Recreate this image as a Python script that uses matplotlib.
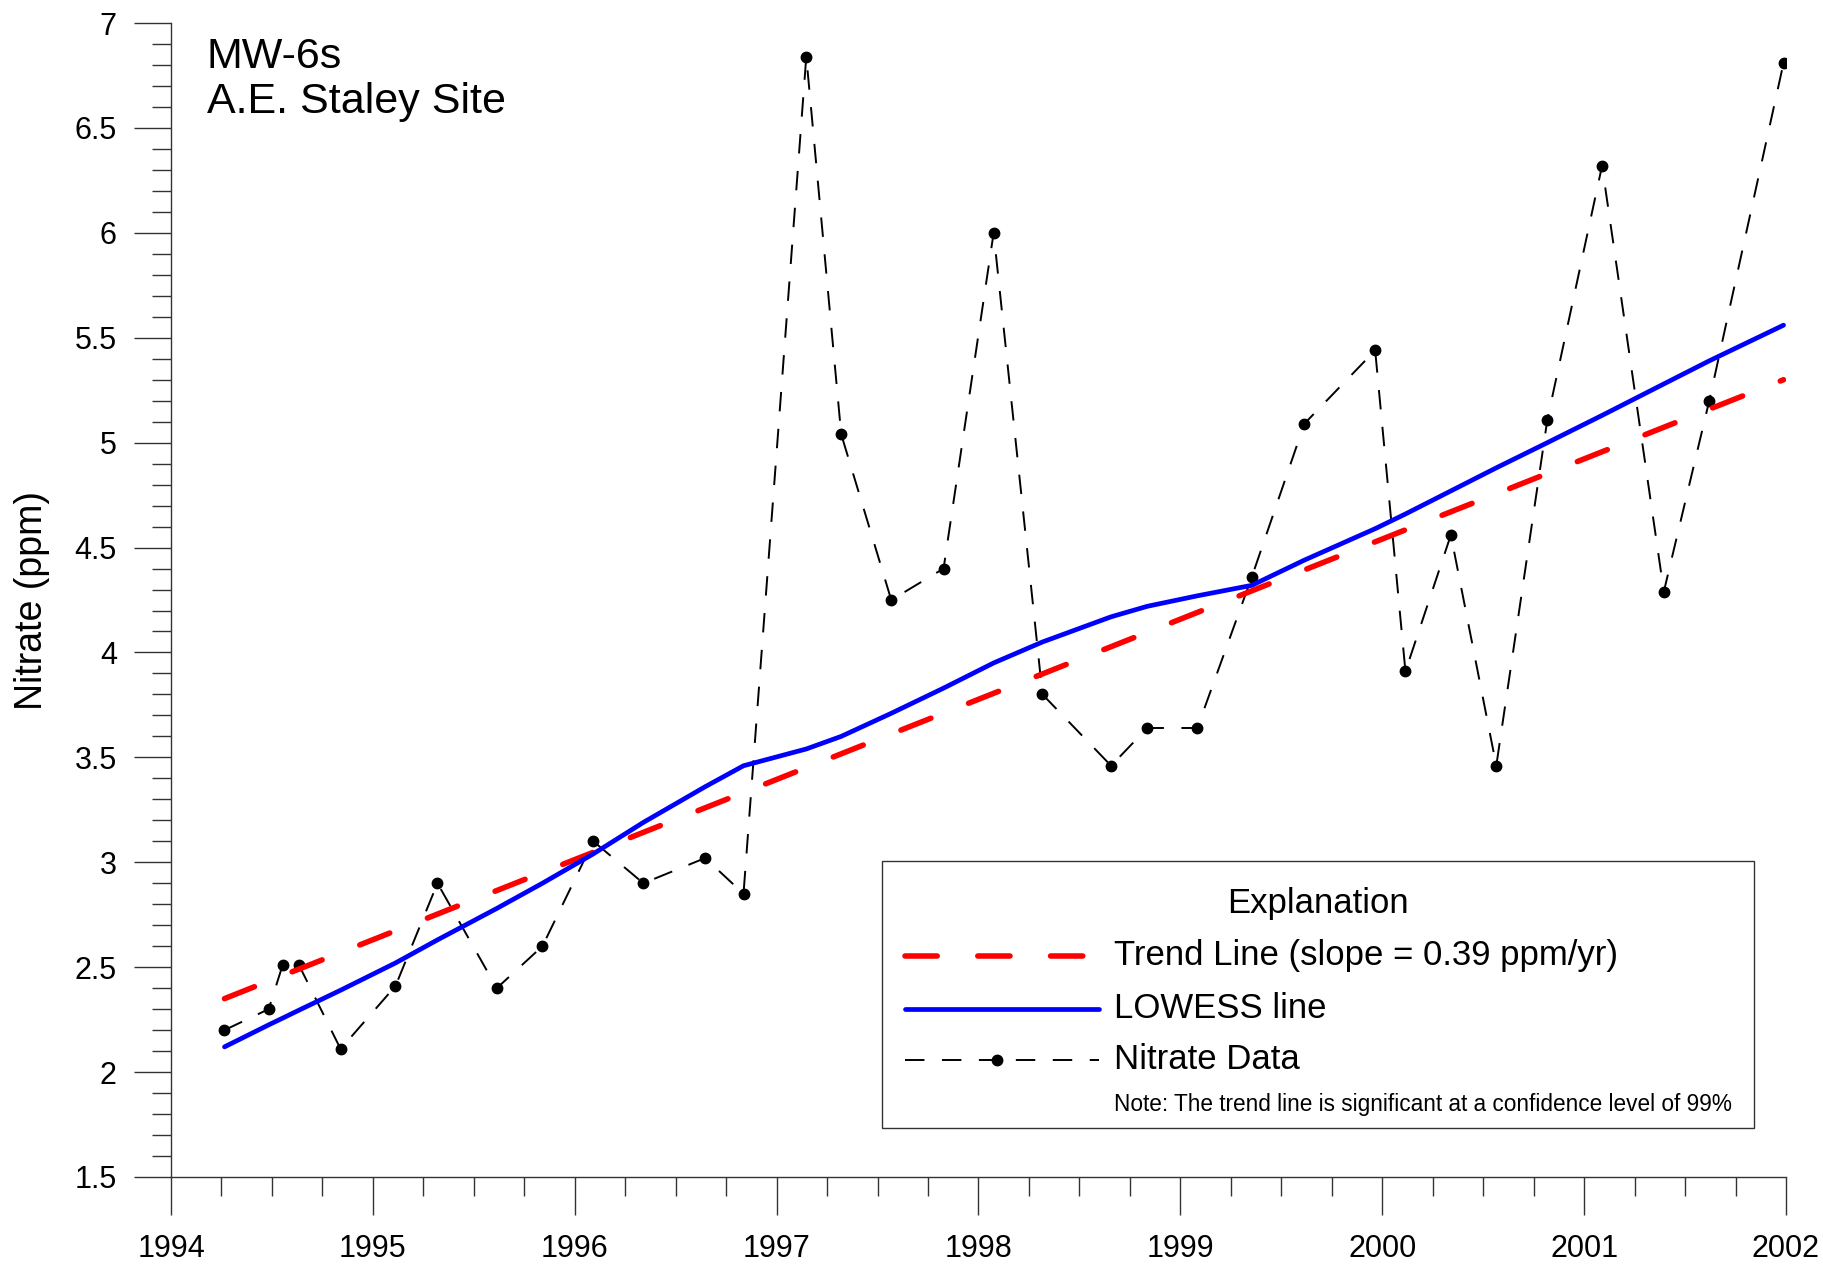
import matplotlib
matplotlib.use("Agg")
import matplotlib.pyplot as plt
from matplotlib.patches import Rectangle
from matplotlib.lines import Line2D
from matplotlib.ticker import MultipleLocator

plt.rcParams['font.family'] = ['Liberation Sans', 'DejaVu Sans']

# sample dates (decimal years) and nitrate concentrations (ppm)
sample_years = [1994.265, 1994.484, 1994.553, 1994.634, 1994.84, 1995.112, 1995.32,
                1995.614, 1995.84, 1996.092, 1996.34, 1996.646, 1996.836, 1997.147,
                1997.32, 1997.568, 1997.827, 1998.075, 1998.317, 1998.657, 1998.836,
                1999.084, 1999.354, 1999.614, 1999.965, 2000.115, 2000.34, 2000.565,
                2000.818, 2001.089, 2001.395, 2001.62, 2001.988]
nitrate = [2.20, 2.30, 2.51, 2.51, 2.11, 2.41, 2.90, 2.40, 2.60, 3.10, 2.90, 3.02,
           2.85, 6.84, 5.04, 4.25, 4.40, 6.00, 3.80, 3.46, 3.64, 3.64, 4.36, 5.09,
           5.44, 3.91, 4.56, 3.46, 5.11, 6.32, 4.29, 5.20, 6.81]

# LOWESS fit evaluated at the sample dates
lowess = [2.12, 2.225, 2.257, 2.295, 2.39, 2.52, 2.63, 2.78, 2.90, 3.04, 3.19, 3.36,
          3.46, 3.54, 3.60, 3.71, 3.83, 3.95, 4.05, 4.17, 4.22, 4.27, 4.32, 4.44,
          4.59, 4.66, 4.77, 4.88, 5.00, 5.13, 5.28, 5.39, 5.56]

# trend line end points
trend_years = [1994.265, 2001.988]
trend_values = [2.35, 5.30]

legend_labels = ['Trend Line (slope = 0.39 ppm/yr)', 'LOWESS line', 'Nitrate Data']
note = 'Note: The trend line is significant at a confidence level of 99%'

fig = plt.figure(figsize=(18.24, 12.68), dpi=100)
ax = fig.add_axes([0.09375, 0.0718, 0.8854, 0.910])

red_style = dict(color='#ff0000', lw=4.0, dashes=(5.8, 7.3), dash_capstyle='round')
blue_style = dict(color='#0000ff', lw=3.4, solid_capstyle='round')
black_dash = dict(color='black', lw=1.4, dashes=(10, 9))

ax.plot(sample_years, nitrate, marker='o', markersize=7.5, **black_dash)
ax.plot(trend_years, trend_values, **red_style)
ax.plot(sample_years, lowess, **blue_style)

ax.set_xlim(1994, 2002)
ax.set_ylim(1.5, 7)
ax.xaxis.set_major_locator(MultipleLocator(1))
ax.xaxis.set_minor_locator(MultipleLocator(0.25))
ax.yaxis.set_major_locator(MultipleLocator(0.5))
ax.yaxis.set_minor_locator(MultipleLocator(0.1))
ax.yaxis.set_major_formatter(plt.FuncFormatter(lambda v, p: f'{v:g}'))

for s in ['top', 'right']:
    ax.spines[s].set_visible(False)
for s in ['left', 'bottom']:
    ax.spines[s].set_color('#333333')
    ax.spines[s].set_linewidth(1.0)

ax.tick_params(which='major', direction='out', length=27, width=1.0, color='#333333',
               labelsize=22)
ax.tick_params(which='minor', direction='out', length=14, width=1.0, color='#333333')
ax.tick_params(axis='x', which='major', pad=14)
ax.tick_params(axis='y', which='major', pad=12)

ax.set_ylabel('Nitrate (ppm)', fontsize=27)
ax.yaxis.set_label_coords(-0.075, 0.5)

ax.text(0.022, 0.971, 'MW-6s', transform=ax.transAxes, fontsize=31, va='center')
ax.text(0.022, 0.932, 'A.E. Staley Site', transform=ax.transAxes, fontsize=31, va='center')

# explanation box
ax.add_patch(Rectangle((0.440, 0.042), 0.540, 0.232, transform=ax.transAxes,
                       fill=False, edgecolor='#333333', lw=1.0))
ax.text(0.710, 0.2366, 'Explanation', transform=ax.transAxes, fontsize=25,
        ha='center', va='center')

row_y = [0.1915, 0.1456, 0.1014]
styles = [red_style, blue_style, black_dash]
for y, lab, st in zip(row_y, legend_labels, styles):
    ax.add_line(Line2D([0.4545, 0.5746], [y, y], transform=ax.transAxes, **st))
    ax.text(0.584, y, lab, transform=ax.transAxes, fontsize=25, va='center')
ax.plot([0.5115], [row_y[2]], 'o', color='black', markersize=7.5, transform=ax.transAxes)
ax.text(0.584, 0.0624, note, transform=ax.transAxes, fontsize=16.3, va='center')

fig.savefig('out.png', dpi=100)
